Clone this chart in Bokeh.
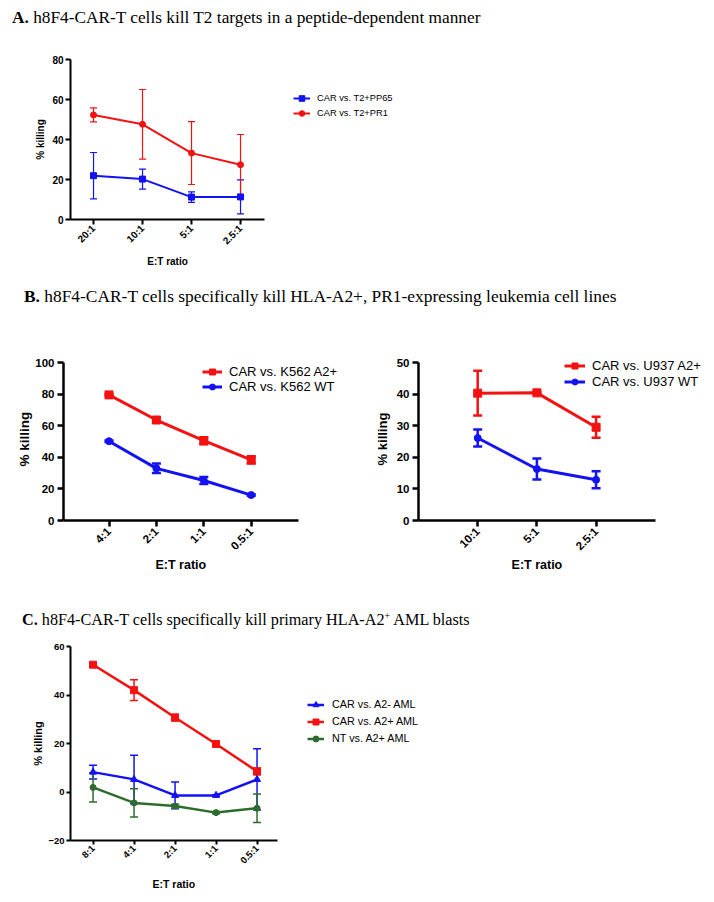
import math
from bokeh.plotting import figure
from bokeh.models import (ColumnDataSource, Range1d, FixedTicker, Whisker, TeeHead,
                          Legend, LegendItem, Div, Title)
from bokeh.layouts import column, row
from bokeh.embed import file_html
from bokeh.resources import INLINE

# ---------------- data ----------------
# Panel A
ratios_A = ["20:1", "10:1", "5:1", "2.5:1"]
pp65_mean = [21.9, 20.2, 11.2, 11.3]
pp65_sd = [11.6, 5.0, 2.6, 8.5]
pr1_mean = [52.3, 47.6, 33.2, 27.4]
pr1_sd = [3.5, 17.4, 15.7, 15.1]

# Panel B left
ratios_B1 = ["4:1", "2:1", "1:1", "0.5:1"]
k562_a2_mean = [79.5, 63.6, 50.5, 38.4]
k562_a2_sd = [0.6, 1.8, 2.2, 2.3]
k562_wt_mean = [50.2, 33.0, 25.3, 16.1]
k562_wt_sd = [0.5, 3.0, 2.2, 0.5]

# Panel B right
ratios_B2 = ["10:1", "5:1", "2.5:1"]
u937_a2_mean = [40.3, 40.4, 29.5]
u937_a2_sd = [7.1, 0.3, 3.3]
u937_wt_mean = [26.1, 16.3, 12.9]
u937_wt_sd = [2.7, 3.3, 2.7]

# Panel C
ratios_C = ["8:1", "4:1", "2:1", "1:1", "0.5:1"]
a2neg_mean = [8.2, 5.2, -1.4, -1.4, 5.2]
a2neg_sd = [2.8, 10.0, 5.5, 0.3, 12.6]
a2pos_mean = [52.5, 42.0, 30.7, 19.8, 8.5]
a2pos_sd = [0.5, 4.3, 1.4, 0.5, 1.4]
nt_mean = [1.9, -4.5, -5.8, -8.5, -6.7]
nt_sd = [6.0, 5.8, 0.8, 0.5, 5.9]

titles = {
    "A": ("A.", "h8F4-CAR-T cells kill T2 targets in a peptide-dependent manner"),
    "B": ("B.", "h8F4-CAR-T cells specifically kill HLA-A2+, PR1-expressing leukemia cell lines"),
    "C": ("C.", "h8F4-CAR-T cells specifically kill primary HLA-A2<sup style='font-size:10px'>+</sup> AML blasts"),
}
x_label = "E:T ratio"
y_label = "% killing"

BLUE = "#1212f2"
RED = "#f21212"
GREEN = "#2e6b2e"
SANS = "Liberation Sans"
PAGE_W = 714


def title_div(h, key, left, top, fs):
    bold, rest = titles[key]
    html = ("<div style=\"position:relative; left:%dpx; top:%dpx; white-space:nowrap; "
            "font-family:'Liberation Serif'; font-size:%spx; line-height:%spx; color:black;\">"
            "<b>%s</b> %s</div>" % (left, top, fs, fs, bold, rest))
    return Div(text=html, width=PAGE_W, height=h, margin=0)


def panel(ratios, series, yr, ystep, geom, st, leg):
    # geom: width, height, left border, top border, frame_w, frame_h,
    #       x pad left, x pad right, px per category, px of frame above ymax
    W, H, bl, bt, fw, fh, padl, padr, pxu, above = geom
    n = len(ratios)
    xs = list(range(n))
    yspan = yr[1] - yr[0]
    ytop = yr[1] + above * yspan / (fh - above)
    p = figure(width=W, height=H, frame_width=fw, frame_height=fh,
               min_border_left=bl, min_border_right=W - bl - fw,
               min_border_top=bt, min_border_bottom=H - bt - fh,
               x_range=Range1d(-padl, -padl + fw / pxu), y_range=Range1d(yr[0], ytop),
               toolbar_location=None, output_backend="svg", outline_line_color=None,
               margin=0)
    p.grid.visible = False
    p.xaxis.ticker = FixedTicker(ticks=xs)
    p.xaxis.major_label_overrides = {i: r for i, r in enumerate(ratios)}
    p.xaxis.bounds = (-padl, n - 1 + padr)
    p.yaxis.ticker = FixedTicker(ticks=list(range(yr[0], yr[1] + 1, ystep)))
    p.yaxis.bounds = (yr[0], yr[1])
    for ax in p.axis:
        ax.axis_line_width = st["axw"]
        ax.axis_line_color = "black"
        ax.major_tick_line_width = st["axw"]
        ax.major_tick_line_color = "black"
        ax.major_tick_out = st["tick"]
        ax.major_tick_in = 0
        ax.minor_tick_line_color = None
        ax.major_label_text_font = SANS
        ax.major_label_text_font_style = "bold"
        ax.major_label_text_font_size = "%spx" % st["tickfs"]
        ax.major_label_text_color = "black"
        ax.axis_label_text_font = SANS
        ax.axis_label_text_font_style = "bold"
        ax.axis_label_text_color = "black"
    p.xaxis.major_label_orientation = math.pi / 4
    p.xaxis.major_label_standoff = st["xls"]
    p.yaxis.major_label_standoff = st["yls"]
    p.yaxis.axis_label = y_label
    p.yaxis.axis_label_text_font_size = "%spx" % st["ylabfs"]
    p.yaxis.axis_label_standoff = st["ylab_so"]

    # x-axis label centred under the drawn axis line (frame is wider for the legend)
    axis_len = (padl + n - 1 + padr) * pxu
    text_w = 4.056 * st["xlabfs"]
    p.add_layout(Title(text=x_label, align="left", offset=axis_len / 2 - text_w / 2,
                       text_font=SANS, text_font_style="bold",
                       text_font_size="%spx" % st["xlabfs"], text_color="black",
                       standoff=st["xlab_so"]), "below")

    items = []
    for name, mean, sd, color, marker, msize in series:
        lower = [m - s for m, s in zip(mean, sd)]
        upper = [m + s for m, s in zip(mean, sd)]
        src = ColumnDataSource(dict(x=xs, y=mean, lower=lower, upper=upper))
        w = Whisker(base="x", upper="upper", lower="lower", source=src,
                    line_color=color, line_width=st["ebw"],
                    upper_head=TeeHead(size=st["cap"], line_color=color, line_width=st["ebw"]),
                    lower_head=TeeHead(size=st["cap"], line_color=color, line_width=st["ebw"]))
        p.add_layout(w)
        lr = p.line("x", "y", source=src, line_color=color, line_width=st["lw"])
        sr = p.scatter("x", "y", source=src, marker=marker, size=msize,
                       fill_color=color, line_color=color)
        items.append(LegendItem(label=name, renderers=[lr, sr]))
    legend = Legend(items=items, location=leg["loc"], padding=0, margin=0,
                    spacing=leg["spacing"], glyph_width=leg["gw"], glyph_height=leg["gh"],
                    label_height=leg["gh"], label_standoff=leg["so"],
                    label_text_font=SANS, label_text_font_size=leg["fs"],
                    label_text_color="black", border_line_color=None,
                    background_fill_alpha=0)
    p.add_layout(legend)
    return p


# ---------------- panel A ----------------
tA = title_div(40, "A", 12, 9, 17.3)
figA = panel(
    ratios_A,
    [("CAR vs. T2+PP65", pp65_mean, pp65_sd, BLUE, "square", 6),
     ("CAR vs. T2+PR1", pr1_mean, pr1_sd, RED, "circle", 6)],
    (0, 80), 20,
    (PAGE_W, 230, 65, 19, 335, 160, 0.47, 0.49, 49.0, 0),
    dict(axw=2, tick=5, tickfs=10, xlabfs=10, ylabfs=10, xls=2, yls=2,
         xlab_so=0, ylab_so=3, ebw=1.2, cap=7, lw=2),
    dict(loc=(223, 99), spacing=1, gw=17, gh=14, so=7, fs="9.3px"))

# ---------------- panel B ----------------
tB = title_div(50, "B", 24, 18, 17.4)
figB1 = panel(
    ratios_B1,
    [("CAR vs. K562 A2+", k562_a2_mean, k562_a2_sd, RED, "square", 8),
     ("CAR vs. K562 WT", k562_wt_mean, k562_wt_sd, BLUE, "circle", 7)],
    (0, 100), 20,
    (340, 255, 63, 37, 277, 163, 0.96, 0.99, 47.4, 5),
    dict(axw=2.5, tick=6, tickfs=11.5, xlabfs=12.5, ylabfs=13.5, xls=3, yls=3,
         xlab_so=-7, ylab_so=0, ebw=2.5, cap=9, lw=3),
    dict(loc=(139, 126), spacing=0, gw=20, gh=15, so=7, fs="13px"))
figB2 = panel(
    ratios_B2,
    [("CAR vs. U937 A2+", u937_a2_mean, u937_a2_sd, RED, "square", 8),
     ("CAR vs. U937 WT", u937_wt_mean, u937_wt_sd, BLUE, "circle", 7)],
    (0, 50), 10,
    (374, 255, 78, 37, 288, 163, 1.0, 1.0, 59.2, 5),
    dict(axw=2.5, tick=6, tickfs=11.5, xlabfs=12.5, ylabfs=13, xls=3, yls=3,
         xlab_so=-7, ylab_so=4, ebw=2.5, cap=9, lw=3),
    dict(loc=(146, 131), spacing=1, gw=21, gh=15, so=7, fs="13px"))

# ---------------- panel C ----------------
tC = title_div(55, "C", 22, 33, 16.2)
figC = panel(
    ratios_C,
    [("CAR vs. A2- AML", a2neg_mean, a2neg_sd, BLUE, "triangle", 7),
     ("CAR vs. A2+ AML", a2pos_mean, a2pos_sd, RED, "square", 7),
     ("NT vs. A2+ AML", nt_mean, nt_sd, GREEN, "circle", 6)],
    (-20, 60), 20,
    (PAGE_W, 264, 70, 16, 370, 194, 0.55, 0.49, 41.0, 0),
    dict(axw=2, tick=4, tickfs=9.5, xlabfs=10.5, ylabfs=11, xls=2, yls=2,
         xlab_so=6, ylab_so=1, ebw=1.5, cap=8, lw=2.5),
    dict(loc=(237, 94.5), spacing=2, gw=17, gh=15, so=8, fs="10.8px"))

page = column(tA, figA, tB, row(figB1, figB2, spacing=0), tC, figC, spacing=0)
open("out.html", "w").write(file_html(page, INLINE))
